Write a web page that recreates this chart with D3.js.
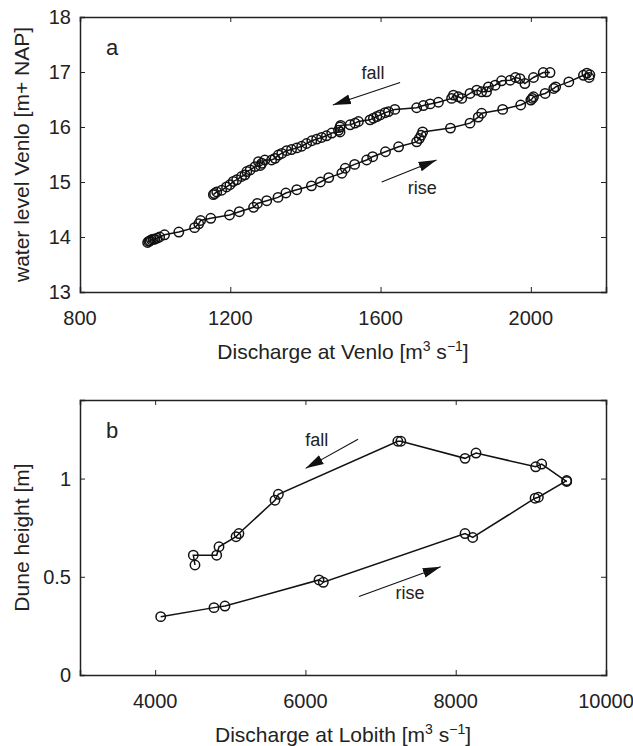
<!DOCTYPE html>
<html>
<head>
<meta charset="utf-8">
<script src="https://cdn.jsdelivr.net/npm/d3@7"></script>
<style>
  html, body { margin: 0; padding: 0; background: #fff; }
  svg text { font-family: "Liberation Sans", Arial, Helvetica, sans-serif; fill: #222; }
</style>
</head>
<body>
<svg id="chart" width="633" height="746"></svg>
<script>
// panel a: Venlo, discharge vs water level
var riseA_Q = [980, 983, 986, 990, 995, 999, 1005, 1012, 1025, 1063, 1105, 1116, 1121, 1148, 1198, 1224, 1262, 1272, 1297, 1327, 1348, 1377, 1416, 1440, 1462, 1497, 1506, 1531, 1563, 1579, 1613, 1648, 1696, 1703, 1708, 1712, 1786, 1838, 1860, 1869, 1925, 1973, 2000, 2004, 2007, 2038, 2061, 2066, 2101, 2140, 2149, 2157, 2155];
var riseA_H = [13.90, 13.92, 13.93, 13.95, 13.96, 13.96, 13.98, 14.00, 14.04, 14.09, 14.17, 14.24, 14.30, 14.34, 14.40, 14.46, 14.54, 14.61, 14.66, 14.72, 14.80, 14.86, 14.93, 15.00, 15.08, 15.16, 15.25, 15.32, 15.40, 15.46, 15.55, 15.64, 15.73, 15.79, 15.85, 15.91, 15.98, 16.07, 16.18, 16.25, 16.32, 16.40, 16.49, 16.52, 16.55, 16.61, 16.70, 16.73, 16.82, 16.94, 16.98, 16.95, 16.90];
var fallA_Q = [2051, 2033, 2007, 1984, 1971, 1959, 1945, 1922, 1905, 1887, 1882, 1869, 1856, 1838, 1816, 1807, 1794, 1789, 1754, 1732, 1714, 1696, 1638, 1621, 1612, 1599, 1590, 1581, 1572, 1541, 1532, 1519, 1494, 1492, 1488, 1492, 1470, 1456, 1443, 1430, 1417, 1403, 1390, 1377, 1363, 1350, 1337, 1328, 1319, 1310, 1292, 1284, 1275, 1280, 1266, 1253, 1244, 1239, 1230, 1217, 1208, 1199, 1190, 1177, 1164, 1158, 1155];
var fallA_H = [16.99, 16.99, 16.90, 16.79, 16.88, 16.90, 16.85, 16.84, 16.76, 16.73, 16.64, 16.64, 16.67, 16.61, 16.52, 16.55, 16.58, 16.52, 16.45, 16.42, 16.39, 16.35, 16.32, 16.28, 16.26, 16.22, 16.19, 16.16, 16.13, 16.10, 16.07, 16.04, 16.03, 16.00, 15.94, 15.91, 15.89, 15.84, 15.81, 15.78, 15.75, 15.70, 15.65, 15.62, 15.59, 15.57, 15.52, 15.49, 15.43, 15.40, 15.40, 15.34, 15.37, 15.30, 15.28, 15.22, 15.19, 15.13, 15.10, 15.04, 15.01, 14.95, 14.91, 14.85, 14.82, 14.79, 14.77];

// panel b: Lobith, discharge vs dune height
var riseB_Q = [4074, 4783, 4929, 6181, 6238, 8124, 8226, 9056, 9100, 9477];
var riseB_H = [0.297, 0.343, 0.351, 0.484, 0.472, 0.72, 0.70, 0.90, 0.905, 0.99];
var fallB_Q = [9477, 9144, 9064, 8270, 8124, 7270, 7230, 5640, 5595, 5115, 5077, 4850, 4819, 4508, 4530];
var fallB_H = [0.985, 1.074, 1.06, 1.13, 1.103, 1.19, 1.19, 0.92, 0.89, 0.72, 0.704, 0.653, 0.61, 0.61, 0.56];

var ticksA_x = [800, 1200, 1600, 2000];
var ticksA_y = [13, 14, 15, 16, 17, 18];
var ticksB_x = [4000, 6000, 8000, 10000];
var ticksB_y = [0, 0.5, 1];
var tickLabelsB_y = ['0', '0.5', '1'];

// annotations: [x1, y1, x2, y2] arrow, label position
var arrowsA = [[1652, 16.81, 1473, 16.40], [1603, 15.00, 1749, 15.40]];
var textA = [['fall', 1580, 16.98], ['rise', 1711, 14.89]];
var arrowsB = [[6700, 1.20, 6003, 1.052], [6712, 0.40, 7800, 0.551]];
var textB = [['fall', 6150, 1.197], ['rise', 7392, 0.42]];

var svg = d3.select('#chart');

svg.append('defs').append('marker')
  .attr('id', 'head')
  .attr('markerUnits', 'userSpaceOnUse')
  .attr('markerWidth', 19)
  .attr('markerHeight', 11)
  .attr('refX', 18)
  .attr('refY', 5.5)
  .attr('orient', 'auto')
  .append('path')
    .attr('d', 'M0,0.5 L18,5.5 L0,10.5 Z')
    .attr('fill', '#111');

function panel(opt) {
  var x = d3.scaleLinear().domain(opt.xDomain).range([80, 606]);
  var y = d3.scaleLinear().domain(opt.yDomain).range([opt.bottom, opt.top]);
  var g = svg.append('g');

  // box with inward ticks on all four sides (matlab style)
  g.append('g').attr('transform', 'translate(0,' + opt.bottom + ')')
    .call(d3.axisBottom(x).tickValues(opt.xTicks).tickSize(-5).tickFormat(''));
  g.append('g').attr('transform', 'translate(0,' + opt.top + ')')
    .call(d3.axisTop(x).tickValues(opt.xTicks).tickSize(-5).tickFormat(''));
  g.append('g').attr('transform', 'translate(80,0)')
    .call(d3.axisLeft(y).tickValues(opt.yTicks).tickSize(-5).tickFormat(''));
  g.append('g').attr('transform', 'translate(606,0)')
    .call(d3.axisRight(y).tickValues(opt.yTicks).tickSize(-5).tickFormat(''));
  g.selectAll('.domain').attr('stroke', '#222').attr('stroke-width', 1.5);
  g.selectAll('.tick line').attr('stroke', '#222').attr('stroke-width', 1);

  g.selectAll('.xlab').data(opt.xTicks).enter().append('text')
    .attr('x', function(d) { return x(d); })
    .attr('y', opt.bottom + 33)
    .attr('text-anchor', 'middle')
    .style('font-size', '20px')
    .text(function(d) { return d; });
  g.selectAll('.ylab').data(opt.yTicks).enter().append('text')
    .attr('x', 71)
    .attr('y', function(d) { return y(d) + 7; })
    .attr('text-anchor', 'end')
    .style('font-size', '20px')
    .text(function(d, i) { return opt.yLabels ? opt.yLabels[i] : d; });

  // x title with superscripts
  var xt = g.append('text')
    .attr('x', 343)
    .attr('y', opt.bottom + 67)
    .attr('text-anchor', 'middle')
    .style('font-size', '21px');
  xt.append('tspan').text(opt.xTitle + ' [m');
  xt.append('tspan').attr('dy', -8).style('font-size', '14px').text('3');
  xt.append('tspan').attr('dy', 8).text(' s');
  xt.append('tspan').attr('dy', -8).style('font-size', '14px').text('\u22121');
  xt.append('tspan').attr('dy', 8).text(']');

  g.append('text')
    .attr('transform', 'translate(29,' + (opt.top + opt.bottom) / 2 + ') rotate(-90)')
    .attr('text-anchor', 'middle')
    .style('font-size', '21px')
    .text(opt.yTitle);

  g.append('text')
    .attr('x', 106)
    .attr('y', opt.top + 38)
    .style('font-size', '22px')
    .text(opt.letter);

  var line = d3.line()
    .x(function(d) { return x(d[0]); })
    .y(function(d) { return y(d[1]); });

  opt.series.forEach(function(s) {
    var pts = d3.zip(s[0], s[1]);
    g.append('path')
      .datum(pts)
      .attr('d', line)
      .attr('fill', 'none')
      .attr('stroke', '#111')
      .attr('stroke-width', 1.5);
    g.selectAll(null).data(pts).enter().append('circle')
      .attr('cx', function(d) { return x(d[0]); })
      .attr('cy', function(d) { return y(d[1]); })
      .attr('r', opt.r)
      .attr('fill', 'none')
      .attr('stroke', '#111')
      .attr('stroke-width', 1.5);
  });

  opt.arrows.forEach(function(a) {
    g.append('line')
      .attr('x1', x(a[0])).attr('y1', y(a[1]))
      .attr('x2', x(a[2])).attr('y2', y(a[3]))
      .attr('stroke', '#111')
      .attr('stroke-width', 1.1)
      .attr('marker-end', 'url(#head)');
  });
  opt.texts.forEach(function(t) {
    g.append('text')
      .attr('x', x(t[1]))
      .attr('y', y(t[2]) + 6)
      .attr('text-anchor', 'middle')
      .style('font-size', '18px')
      .text(t[0]);
  });
}

panel({
  xDomain: [800, 2200], yDomain: [13, 18], top: 17, bottom: 292,
  xTicks: ticksA_x, yTicks: ticksA_y,
  xTitle: 'Discharge at Venlo', yTitle: 'water level Venlo [m+ NAP]', letter: 'a',
  series: [[riseA_Q, riseA_H], [fallA_Q, fallA_H]], r: 4.7,
  arrows: arrowsA, texts: textA
});

panel({
  xDomain: [3000, 10000], yDomain: [0, 1.4], top: 400, bottom: 675,
  xTicks: ticksB_x, yTicks: ticksB_y, yLabels: tickLabelsB_y,
  xTitle: 'Discharge at Lobith', yTitle: 'Dune height [m]', letter: 'b',
  series: [[riseB_Q, riseB_H], [fallB_Q, fallB_H]], r: 4.7,
  arrows: arrowsB, texts: textB
});
</script>
</body>
</html>
